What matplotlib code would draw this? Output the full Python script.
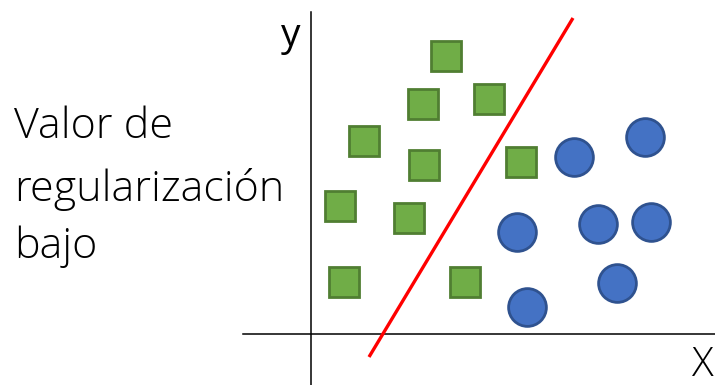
import matplotlib.pyplot as plt

# positions (pixel-like coordinates, y pointing down)
sq_x = [446, 423, 489, 364, 424, 521, 340, 409, 344, 465]
sq_y = [56, 104, 99, 141, 165, 162, 206, 218, 282, 282]
circ_x = [574, 645, 517, 598, 651, 617, 527]
circ_y = [157, 137, 232, 224, 222, 283, 307]
line_x = [369, 573]
line_y = [357, 18]
label_lines = ['Valor de', 'regularización', 'bajo']

fig = plt.figure(figsize=(7.15, 3.85), dpi=100)
ax = fig.add_axes([0, 0, 1, 1])
ax.set_xlim(0, 715)
ax.set_ylim(385, 0)
ax.axis('off')

# axes of the sketch
ax.plot([311, 311], [12, 385], color='black', lw=1.1)
ax.plot([243, 715], [334, 334], color='black', lw=1.1)

ax.plot(sq_x, sq_y, 's', ms=21.8, mfc='#70AD47', mec='#507E32', mew=2.0, ls='none')
ax.plot(circ_x, circ_y, 'o', ms=27.2, mfc='#4472C4', mec='#2F528F', mew=2.0, ls='none')
ax.plot(line_x, line_y, color='#FF0000', lw=2.4, solid_capstyle='butt')

ax.text(291, 36, 'y', fontsize=28, family='Open Sans',
        ha='center', va='center')
ax.text(703, 365, 'X', fontsize=29, family='Open Sans', fontweight='light',
        ha='center', va='center')
for txt, yy in zip(label_lines, [138, 201, 258]):
    ax.text(14, yy, txt, fontsize=31, family='Open Sans', fontweight='light',
            ha='left', va='baseline')

fig.savefig('out.png', dpi=100)
